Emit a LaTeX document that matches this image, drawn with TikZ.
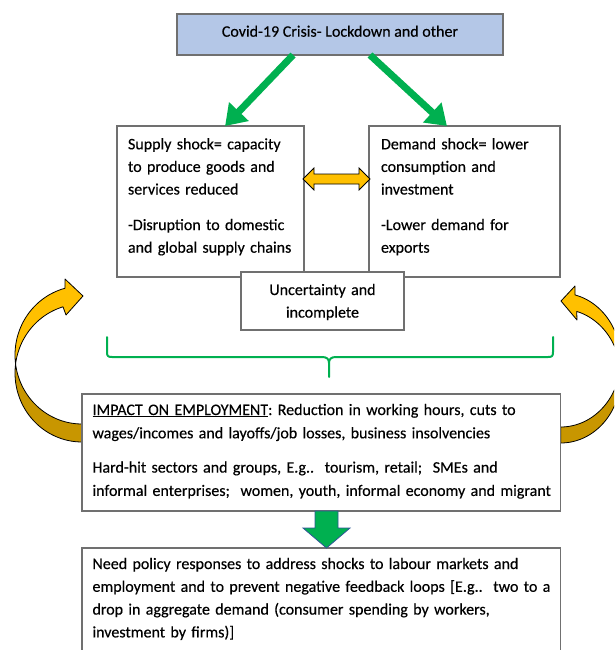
\documentclass[tikz,border=0pt]{standalone}
\usepackage{fontspec}
\setmainfont{Carlito}[FakeBold=0.35]
\usetikzlibrary{arrows.meta,calc}
\definecolor{topblue}{HTML}{B4C7E7}
\definecolor{boxgray}{HTML}{707070}
\definecolor{ogreen}{HTML}{00B050}
\definecolor{gold}{HTML}{FFC000}
\definecolor{darkgold}{HTML}{C89600}
\definecolor{arrowblue}{HTML}{2F5597}
\frenchspacing
\begin{document}
\begin{tikzpicture}[x=1pt,y=-1pt,
  box/.style={draw=boxgray, line width=1.1pt, fill=white, anchor=north west, inner sep=0pt, outer sep=0pt},
  txt/.style={inner sep=0pt, outer sep=0pt, font=\fontsize{16}{22.6}\selectfont, align=left},
  greenarrow/.style={draw=ogreen, line width=7pt, -{Triangle[length=20pt,width=26pt]}},
  goldshape/.style={fill=gold, draw=black, line width=0.8pt, line join=round},
  darkshape/.style={fill=darkgold, draw=black, line width=0.8pt, line join=round},
  bracestyle/.style={draw=ogreen, line width=2pt, line join=round, line cap=round},
  blockgold/.style={fill=gold, draw=black, line width=0.8pt, line join=miter},
  blockgreen/.style={fill=ogreen, draw=arrowblue, line width=0.8pt, line join=miter}
]
\useasboundingbox[fill=white] (0,0) rectangle (614,650);
\clip (0,0) rectangle (614,650);

% curved arrows (behind boxes)
% left
\filldraw[goldshape] (65,279) -- (83,296) -- (66,315) -- (63,306.8)
  -- plot[domain=106.5:172.5, samples=40] ({82+67*cos(\x)},{373-69*sin(\x)})
  -- plot[domain=187.5:104.7, samples=40] ({82+67*cos(\x)},{355-69*sin(\x)})
  -- cycle;
\filldraw[darkshape] plot[domain=187.5:270, samples=40] ({82+67*cos(\x)},{355-69*sin(\x)})
  -- plot[domain=270:172.5, samples=40] ({82+67*cos(\x)},{373-69*sin(\x)}) -- cycle;
% right
\filldraw[goldshape] (575,286) -- (561,301) -- (577,320) -- (576.7,311.4)
  -- plot[domain=105.5:173.1, samples=40] ({560.7-60*cos(\x)},{376-67*sin(\x)})
  -- plot[domain=186.9:103.8, samples=40] ({560.7-60*cos(\x)},{360-67*sin(\x)})
  -- cycle;
\filldraw[darkshape] plot[domain=186.9:270, samples=40] ({560.7-60*cos(\x)},{360-67*sin(\x)})
  -- plot[domain=270:173.1, samples=40] ({560.7-60*cos(\x)},{376-67*sin(\x)}) -- cycle;

% boxes
\node[box, fill=topblue, minimum width=326, minimum height=41] (top) at (177,14) {};
\node[box, minimum width=187, minimum height=151] (supply) at (117,126) {};
\node[box, minimum width=191, minimum height=151] (demand) at (369,126) {};
\node[box, minimum width=163, minimum height=58] (unc) at (241,272) {};
\node[box, minimum width=478.7, minimum height=117] (impact) at (82,394) {};
\node[box, minimum width=478.7, minimum height=130] (policy) at (82,548) {};

% green arrows
\draw[greenarrow] ($(top.south west)!0.356!(top.south east)$) -- ($(supply.north west)!0.578!(supply.north east)$);
\draw[greenarrow] ($(top.south west)!0.592!(top.south east)$) -- ($(demand.north west)!0.408!(demand.north east)$);

% double arrow
\filldraw[blockgold] (303,179) -- (314,168) -- (314,174) -- (359,174) -- (359,168) -- (370,179)
  -- (359,190) -- (359,184) -- (314,184) -- (314,190) -- cycle;

% down arrow
\filldraw[blockgreen] (315,511) -- (338,511) -- (338,528) -- (350,528) -- (326.5,548)
  -- (303,528) -- (315,528) -- cycle;

% brace
\draw[bracestyle] (107,337) -- (107,352) .. controls (107,356) and (108,357) .. (112,357)
  -- (322,357) .. controls (327,357) and (329,359) .. (329,363) -- (329,377)
  -- (329,363) .. controls (329,359) and (331,357) .. (336,357)
  -- (548,357) .. controls (552,357) and (553,356) .. (553,352) -- (553,337);

% texts
\node[txt, anchor=base] (toptxt) at (340,36.7) {Covid-19 Crisis- Lockdown and other};
\node[txt, anchor=base west, text width=185] (suptxt) at (128,149.3)
  {Supply shock= capacity\\ to produce goods and\\ services reduced\\[13pt] -Disruption to domestic\\ and global supply chains};
\node[txt, anchor=base west, text width=180] (demtxt) at (381,149.3)
  {Demand shock= lower\\ consumption and\\ investment\\[13pt] -Lower demand for\\ exports};
\node[txt, anchor=base, align=center, text width=160] (unctxt) at (322.5,295)
  {Uncertainty and\\ incomplete};
\node[txt, anchor=base west, text width=465, font=\fontsize{16}{23.3}\selectfont] (imptxt) at (92.5,415)
  {\underline{IMPACT ON EMPLOYMENT}: Reduction in working hours, cuts to\\ wages/incomes and layoffs/job losses, business insolvencies\\[11pt] Hard-hit sectors and groups, E.g..\ \ tourism, retail;\ \ SMEs and\\ informal enterprises;\ \ women, youth, informal economy and migrant};
\node[txt, anchor=base west, text width=465, font=\fontsize{16}{22.8}\selectfont] (poltxt) at (92.5,569)
  {Need policy responses to address shocks to labour markets and\\ employment and to prevent negative feedback loops [E.g..\ \ two to a\\ drop in aggregate demand (consumer spending by workers,\\ investment by firms)]};
\end{tikzpicture}
\end{document}
